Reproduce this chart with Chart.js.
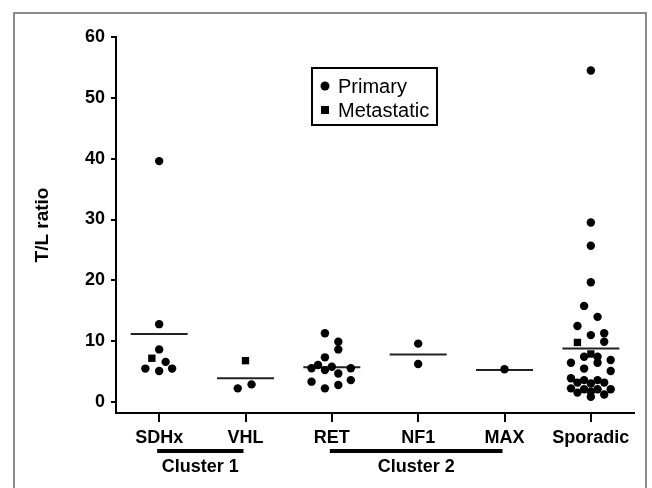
<!DOCTYPE html>
<html><head><meta charset="utf-8">
<script src="https://cdn.jsdelivr.net/npm/chart.js@4.4.0/dist/chart.umd.min.js"></script>
<style>html,body{margin:0;padding:0;background:#fff;overflow:hidden}#wrap{width:652px;height:488px;position:relative}</style>
</head><body><div id="wrap"><canvas id="c" width="652" height="488"></canvas></div>
<script>
// ---------- data ----------
const categories = ['SDHx', 'VHL', 'RET', 'NF1', 'MAX', 'Sporadic'];
const yTicks = [0, 10, 20, 30, 40, 50, 60];
const yTitle = 'T/L ratio';
const seriesNames = ['Primary', 'Metastatic'];

// Primary tumours (T/L ratio) and horizontal jitter (in category units)
const primarySDHx = [39.6, 12.8, 8.65, 6.6, 5.5, 5.1, 5.5];
const jitterSDHx  = [0, 0, 0, 0.075, -0.16, 0, 0.15];
const primaryVHL  = [2.25, 2.9];
const jitterVHL   = [-0.09, 0.07];
const primaryRET  = [11.3, 9.9, 8.65, 7.35, 6.1, 5.55, 5.25, 5.8, 5.55, 4.7, 3.35, 3.6, 2.8, 2.25];
const jitterRET   = [-0.08, 0.075, 0.075, -0.08, -0.16, -0.235, -0.08, 0, 0.22, 0.075, -0.235, 0.22, 0.075, -0.08];
const primaryNF1  = [9.6, 6.25];
const jitterNF1   = [0, 0];
const primaryMAX  = [5.4];
const jitterMAX   = [0];
const primarySporadic = [54.5, 29.5, 25.7, 19.7, 15.8, 14.0, 12.5, 11.0, 11.3, 9.9,
  7.45, 7.45, 6.45, 6.45, 6.9, 5.5, 5.1, 3.9, 3.2, 3.6, 3.05, 3.6, 3.2, 2.25, 1.55, 2.1, 1.7, 2.1, 1.25, 2.1, 0.85];
const jitterSporadic = [0, 0, 0, 0, -0.078, 0.078, -0.155, 0, 0.155, 0.155,
  -0.078, 0.078, -0.23, 0.078, 0.23, -0.078, 0.23, -0.23, -0.155, -0.078, 0, 0.078, 0.155, -0.23, -0.155, -0.078, 0, 0.078, 0.155, 0.23, 0];

// Metastatic tumours: category, value, jitter
const metaCategory = ['SDHx', 'VHL', 'Sporadic', 'Sporadic'];
const metaValues   = [7.2, 6.8, 9.8, 7.9];
const metaJitter   = [-0.085, 0, -0.155, 0];

// Group means
const meanValues = [11.2, 3.9, 5.7, 7.8, 5.25, 8.8];

// Clusters
const clusterLabels = ['Cluster 1', 'Cluster 2'];
const clusterFrom   = ['SDHx', 'RET'];
const clusterTo     = ['VHL', 'MAX'];

// ---------- build ----------
const FONT = "'Liberation Sans', Arial, Helvetica, sans-serif";
function pts(vals, jit, ci) { return vals.map((v, k) => ({ x: ci + jit[k], y: v })); }
const primaryData = [].concat(
  pts(primarySDHx, jitterSDHx, 0),
  pts(primaryVHL, jitterVHL, 1),
  pts(primaryRET, jitterRET, 2),
  pts(primaryNF1, jitterNF1, 3),
  pts(primaryMAX, jitterMAX, 4),
  pts(primarySporadic, jitterSporadic, 5)
);
const metaData = metaValues.map((v, k) => ({ x: categories.indexOf(metaCategory[k]) + metaJitter[k], y: v }));

const MEAN_HALF = 0.33;
const meanSets = meanValues.map((m, i) => ({
  type: 'line',
  label: 'mean ' + categories[i],
  data: [{ x: i - MEAN_HALF, y: m }, { x: i + MEAN_HALF, y: m }],
  borderColor: '#222', borderWidth: 2, pointRadius: 0, fill: false, order: 2
}));

const decor = {
  id: 'decor',
  beforeDraw(chart) {
    const c = chart.ctx;
    c.save();
    c.fillStyle = '#fff';
    c.fillRect(0, 0, chart.width, chart.height);
    c.strokeStyle = '#8c8c8c';
    c.lineWidth = 2;
    c.strokeRect(14, 13, 632, 500);
    c.restore();
  },
  afterDraw(chart) {
    const c = chart.ctx;
    const xs = chart.scales.x;
    c.save();
    // clusters
    clusterLabels.forEach((lab, k) => {
      const x1 = xs.getPixelForValue(categories.indexOf(clusterFrom[k])) - 2;
      const x2 = xs.getPixelForValue(categories.indexOf(clusterTo[k])) - 2;
      c.fillStyle = '#000';
      c.fillRect(x1, 449, x2 - x1, 4);
      c.font = 'bold 18px ' + FONT;
      c.textAlign = 'center';
      c.textBaseline = 'middle';
      c.fillText(lab, (x1 + x2) / 2, 467);
    });
    // legend
    c.strokeStyle = '#000';
    c.lineWidth = 2;
    c.strokeRect(312, 68, 125, 57);
    c.fillStyle = '#000';
    c.beginPath(); c.arc(325, 86, 4.5, 0, Math.PI * 2); c.fill();
    c.fillRect(321, 106, 8, 8);
    c.font = '20px ' + FONT;
    c.textAlign = 'left';
    c.textBaseline = 'middle';
    c.fillText(seriesNames[0], 338, 87);
    c.fillText(seriesNames[1], 338, 111);
    c.restore();
  }
};

new Chart(document.getElementById('c'), {
  type: 'scatter',
  data: {
    datasets: [
      { label: seriesNames[0], data: primaryData, pointStyle: 'circle', pointRadius: 4.2, pointBorderWidth: 0,
        backgroundColor: '#000', borderColor: '#000', order: 1 },
      { label: seriesNames[1], data: metaData, pointStyle: 'rect', pointRadius: 5.2, pointBorderWidth: 0,
        backgroundColor: '#000', borderColor: '#000', order: 1 }
    ].concat(meanSets)
  },
  options: {
    responsive: false,
    animation: false,
    layout: { padding: { top: 37, right: 18, left: 0, bottom: 0 } },
    plugins: { legend: { display: false }, tooltip: { enabled: false } },
    scales: {
      x: {
        type: 'linear', min: -0.5, max: 5.5,
        afterBuildTicks: s => { s.ticks = categories.map((c, i) => ({ value: i })); },
        afterFit: s => { s.height = 75; },
        ticks: { callback: v => categories[v], color: '#000', font: { family: FONT, size: 18, weight: 'bold' },
                 padding: 5, autoSkip: false, maxRotation: 0 },
        grid: { drawOnChartArea: false, tickLength: 9, color: '#000', lineWidth: 2 },
        border: { color: '#000', width: 2 }
      },
      y: {
        type: 'linear', min: -1.8, max: 60,
        afterBuildTicks: s => { s.ticks = yTicks.map(v => ({ value: v })); },
        afterFit: s => { s.width = 116; },
        ticks: { color: '#000', font: { family: FONT, size: 18, weight: 'bold' }, padding: 6 },
        grid: { drawOnChartArea: false, tickLength: 5, color: '#000', lineWidth: 2 },
        border: { color: '#000', width: 2 },
        title: { display: true, text: yTitle, color: '#000', font: { family: FONT, size: 19, weight: 'bold' },
                 padding: { top: 31, bottom: 0 } }
      }
    }
  },
  plugins: [decor]
});
</script></body></html>
